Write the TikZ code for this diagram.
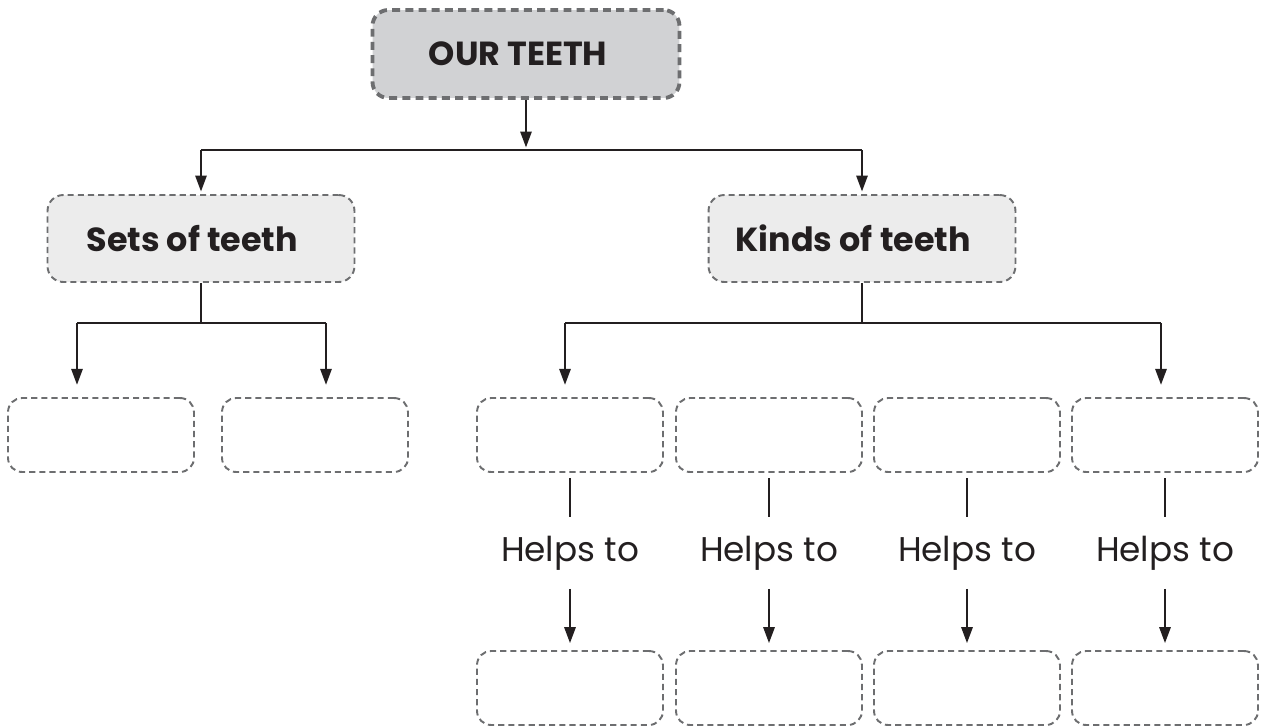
\documentclass[tikz,border=0pt]{standalone}
\usepackage{fontspec}
\setmainfont{Poppins}
\usetikzlibrary{arrows.meta}
\definecolor{dashgray}{HTML}{6D6E70}
\definecolor{topfill}{HTML}{D1D2D4}
\definecolor{subfill}{HTML}{ECECEC}
\definecolor{ink}{HTML}{231F20}
\tikzset{
  topbox/.style={draw=dashgray, fill=topfill, line width=2.2pt, dash pattern=on 4.5pt off 3pt, rounded corners=9pt, minimum width=6.14cm, minimum height=1.76cm, font=\fontsize{19}{22}\selectfont\bfseries, text=ink},
  subbox/.style={draw=dashgray, fill=subfill, line width=1.1pt, dash pattern=on 3.5pt off 2.3pt, rounded corners=9pt, minimum width=6.14cm, minimum height=1.74cm, font=\fontsize{19}{22}\selectfont\bfseries, text=ink},
  blank/.style={draw=dashgray, line width=1.1pt, dash pattern=on 3.5pt off 2.3pt, rounded corners=8pt, minimum width=3.72cm, minimum height=1.48cm},
  helps/.style={font=\fontsize{19.5}{22}\selectfont, text=ink, inner sep=0pt, minimum height=1.42cm},
  conn/.style={draw=ink, line width=0.9pt},
  arr/.style={conn, -{Triangle[length=9pt,width=6.5pt]}},
}
\begin{document}
\begin{tikzpicture}[x=0.02cm,y=-0.02cm]
\useasboundingbox (0,0) rectangle (1269,727);
% main nodes
\node[topbox] (top) at (526,54) {OUR TEETH\kern9pt};
\node[subbox] (sets) at (201,238.5) {Sets of teeth\kern10pt};
\node[subbox] (kinds) at (862,238.5) {Kinds of teeth\kern10pt};
% junction coordinates
\coordinate (h1) at (526,150);
\coordinate (h2) at (201,323);
\coordinate (h3) at (862,323);
% set boxes
\node[blank] (s1) at (101,435) {};
\node[blank] (s2) at (315,435) {};
\coordinate (s1in) at (77,323);
\coordinate (s2in) at (326,323);
% kind boxes
\foreach \i/\x in {1/570,2/769,3/967,4/1165}{
  \node[blank] (k\i) at (\x,435) {};
  \node[helps] (hp\i) at (\x,553) {Helps to};
  \node[blank] (b\i) at (\x,688) {};
}
\coordinate (k1in) at (565,323);
\coordinate (k4in) at (1161,323);
% connectors
\draw[arr, shorten >=1.5pt] (top.south) -- (h1);
\draw[conn] (sets.north |- h1) -- (kinds.north |- h1);
\draw[arr, shorten >=1.5pt] (sets.north |- h1) -- (sets.north);
\draw[arr, shorten >=1.5pt] (kinds.north |- h1) -- (kinds.north);
\draw[conn] (sets.south) -- (h2);
\draw[conn] (s1in) -- (s2in);
\draw[arr] (s1in) -- ([yshift=7pt]s1in |- s1.north);
\draw[arr] (s2in) -- ([yshift=7pt]s2in |- s2.north);
\draw[conn] (kinds.south) -- (h3);
\draw[conn] (k1in) -- (k4in);
\draw[arr] (k1in) -- ([yshift=7pt]k1in |- k1.north);
\draw[arr] (k4in) -- ([yshift=7pt]k4in |- k4.north);
\foreach \i in {1,2,3,4}{
  \draw[conn] ([yshift=-3pt]k\i.south) -- (hp\i.north);
  \draw[arr] (hp\i.south) -- ([yshift=4pt]b\i.north);
}
\end{tikzpicture}
\end{document}
